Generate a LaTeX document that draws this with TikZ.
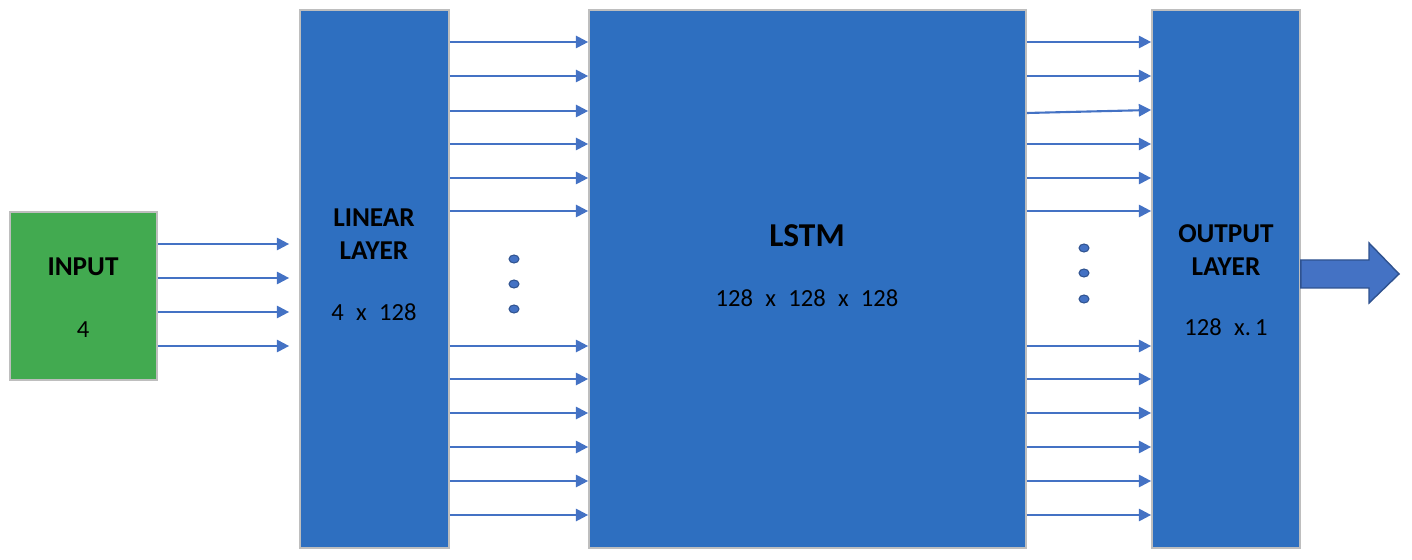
\documentclass[tikz,border=0pt]{standalone}
\usepackage{fontspec}
\setmainfont{Carlito}
\usetikzlibrary{arrows.meta}

\definecolor{boxblue}{RGB}{46,111,192}
\definecolor{linkblue}{RGB}{68,114,196}
\definecolor{darkblue}{RGB}{47,82,143}
\definecolor{inpgreen}{RGB}{66,170,80}
\definecolor{edgegray}{RGB}{190,190,190}

\tikzset{
  layerbox/.style={draw=edgegray, line width=1pt, fill=boxblue, inner sep=0pt},
  conn/.style={-{Triangle[length=7pt,width=7pt]}, linkblue, line width=1.2pt},
  bigtitle/.style={font=\fontsize{15.5}{18.5}\selectfont\bfseries, align=center},
  dims/.style={font=\fontsize{14}{16}\selectfont},
  dot/.style={fill=linkblue, draw=darkblue, line width=0.6pt}
}

\begin{document}
\begin{tikzpicture}[x=0.02cm, y=-0.02cm, >=Stealth]
  \useasboundingbox (0,0) rectangle (1412,560);

  % the four blocks
  \node[layerbox, fill=inpgreen, minimum width=2.94cm, minimum height=3.36cm] (inp) at (83.5,296) {};
  \node[layerbox, minimum width=2.98cm, minimum height=10.76cm] (lin) at (374.5,279) {};
  \node[layerbox, minimum width=8.74cm, minimum height=10.76cm] (lstm) at (807.5,279) {};
  \node[layerbox, minimum width=2.96cm, minimum height=10.76cm] (out) at (1226,279) {};

  \node[bigtitle] (inpname) at (83,267) {INPUT};
  \node[dims] (inpdim) at (83,330) {4};
  \node[bigtitle] (linname) at (374,234) {LINEAR\\LAYER};
  \node[dims] (lindim) at (374,312) {4\enspace x\enspace 128};
  \node[bigtitle, font=\fontsize{19}{22}\selectfont\bfseries] (lstmname) at (807,236) {LSTM};
  \node[dims] (lstmdim) at (807,298) {128\enspace x\enspace 128\enspace x\enspace 128};
  \node[bigtitle] (outname) at (1226,250) {OUTPUT\\LAYER};
  \node[dims] (outdim) at (1226,327) {128\enspace x.\,1};

  % input -> linear
  \foreach \y in {244,278,312,346}
    \draw[conn, shorten >=10*0.02cm] (inp.east |- 0,\y) -- (lin.west |- 0,\y);

  % linear -> lstm
  \foreach \y in {42,76,111,144,178,211,346,379,413,447,481,515}
    \draw[conn] (lin.east |- 0,\y) -- (lstm.west |- 0,\y);

  % lstm -> output
  \foreach \y in {42,76,144,178,211,346,379,413,447,481,515}
    \draw[conn] (lstm.east |- 0,\y) -- (out.west |- 0,\y);
  \draw[conn] (lstm.east |- 0,113) -- (out.west |- 0,110);

  % dots
  \foreach \y in {259,284,309}
    \draw[dot] (514,\y) ellipse [x radius=5, y radius=4];
  \foreach \y in {248,273,299}
    \draw[dot] (1084,\y) ellipse [x radius=5, y radius=4];

  % result arrow
  \draw[fill=linkblue, draw=darkblue, line width=0.8pt]
    (out.east |- 0,260) -- (1369,260) -- (1369,243) -- (1399,274)
    -- (1369,303) -- (1369,288) -- (out.east |- 0,288) -- cycle;
\end{tikzpicture}
\end{document}
